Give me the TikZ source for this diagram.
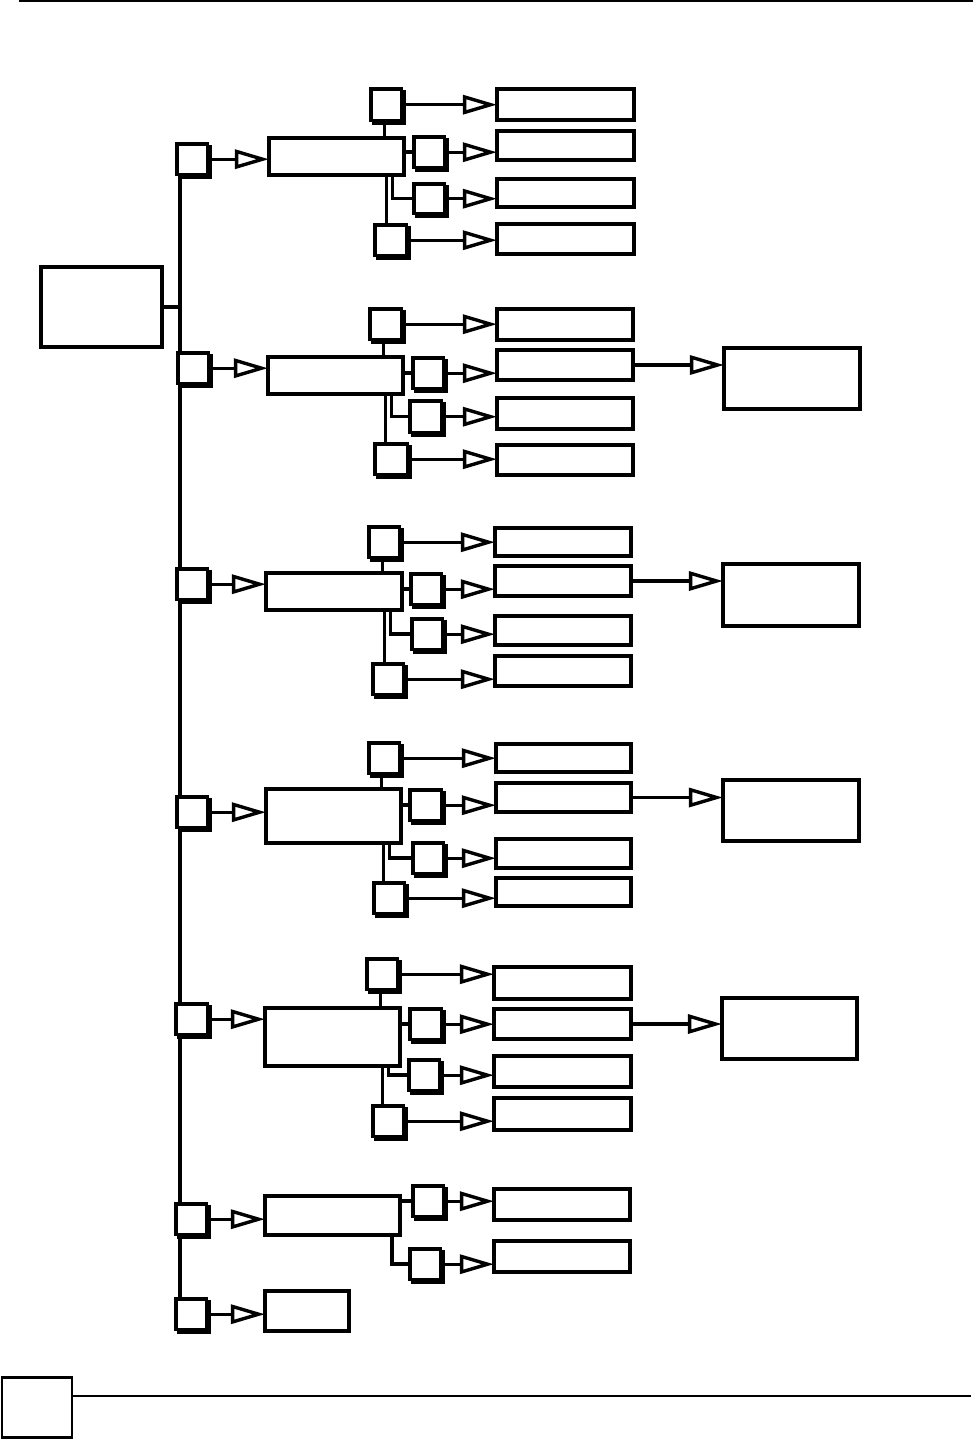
\documentclass[tikz,border=0pt]{standalone}
\usetikzlibrary{arrows.meta,shadows,backgrounds}
\tikzset{
  box/.style={draw,line width=3.8pt,fill=white,inner sep=0pt,outer sep=0pt},
  sqbox/.style={box,drop shadow={shadow xshift=2.6pt,shadow yshift=-2.6pt,opacity=1,fill=black,draw=black,line width=3.8pt}},
  ln/.style={line width=3.5pt},
  arr/.style={line width=3.4pt,-{Triangle[open,length=34pt,width=19pt]}},
}
\newcommand\bx[6][]{\node[box,#1,minimum width={#5-#3-3.8},minimum height={#6-#4-3.8}] (#2) at ({(#3+#5)/2},{(#4+#6)/2}) {};}
\newcommand\sqr[5]{\node[sqbox,minimum width={#4-#2-6.4},minimum height={#5-#3-6.4}] (#1) at ({(#2+#4-2.6)/2},{(#3+#5-2.6)/2}) {};}
\begin{document}
\begin{tikzpicture}[x=1pt,y=-1pt]
\useasboundingbox (0,0) rectangle (973,1440);
% header / footer
\draw[line width=2pt] (19,1) -- (973,1);
\node[draw,line width=2.6pt,inner sep=0pt,minimum width=70,minimum height=60] (foot) at (37,1407.5) {};
\draw[line width=1.4pt] (foot.east |- 0,1396) -- (971,1396);
% root
\bx{root}{39}{265}{164}{349}
% section 1
\sqr{s1}{175}{142}{212}{179}
\bx{m1}{267}{136}{406}{177}
\sqr{a1}{369}{87}{406}{125}
\sqr{b1}{412}{135}{449}{172}
\sqr{c1}{412}{182}{449}{218}
\sqr{d1}{373}{223}{411}{260}
\bx{L11}{495}{87}{636}{122}
\bx{L12}{495}{129}{636}{162}
\bx{L13}{495}{177}{636}{209}
\bx{L14}{495}{222}{636}{256}
% section 2
\sqr{s2}{176}{351}{213}{388}
\bx{m2}{266}{355}{405}{396}
\sqr{a2}{368}{307}{406}{344}
\sqr{b2}{411}{356}{448}{393}
\sqr{c2}{408}{399}{446}{437}
\sqr{d2}{373}{442}{412}{479}
\bx{L21}{495}{307}{635}{342}
\bx{L22}{495}{348}{635}{382}
\bx{L23}{495}{396}{635}{431}
\bx{L24}{495}{443}{635}{477}
\bx{F2}{722}{346}{862}{411}
% section 3
\sqr{s3}{175}{567}{212}{604}
\bx{m3}{264}{571}{404}{612}
\sqr{a3}{367}{525}{404}{562}
\sqr{b3}{409}{572}{446}{609}
\sqr{c3}{410}{617}{447}{654}
\sqr{d3}{371}{662}{408}{699}
\bx{L31}{493}{526}{633}{558}
\bx{L32}{493}{564}{633}{598}
\bx{L33}{493}{614}{633}{647}
\bx{L34}{493}{654}{633}{688}
\bx{F3}{721}{562}{861}{628}
% section 4
\sqr{s4}{175}{795}{212}{832}
\bx{m4}{264}{787}{403}{845}
\sqr{a4}{367}{741}{404}{778}
\sqr{b4}{408}{788}{446}{825}
\sqr{c4}{411}{841}{448}{878}
\sqr{d4}{372}{881}{409}{918}
\bx{L41}{494}{742}{633}{774}
\bx{L42}{494}{781}{633}{814}
\bx{L43}{494}{837}{633}{870}
\bx{L44}{494}{876}{633}{908}
\bx{F4}{721}{778}{861}{843}
% section 5
\sqr{s5}{174}{1002}{212}{1039}
\bx{m5}{263}{1006}{402}{1068}
\sqr{a5}{365}{957}{402}{994}
\sqr{b5}{408}{1007}{446}{1044}
\sqr{c5}{407}{1058}{444}{1095}
\sqr{d5}{371}{1104}{408}{1141}
\bx{L51}{492}{965}{633}{1001}
\bx{L52}{492}{1007}{633}{1041}
\bx{L53}{492}{1054}{633}{1089}
\bx{L54}{492}{1096}{633}{1132}
\bx{F5}{720}{996}{859}{1061}
% section 6
\sqr{s6}{174}{1202}{211}{1239}
\bx{m6}{263}{1194}{402}{1237}
\sqr{b6}{411}{1184}{448}{1221}
\sqr{c6}{408}{1247}{445}{1284}
\bx{L61}{492}{1187}{632}{1222}
\bx{L62}{492}{1239}{632}{1274}
% section 7
\sqr{s7}{174}{1297}{211}{1334}
\bx{m7}{263}{1289}{351}{1333}
% bus
\coordinate (bt) at ([xshift=3pt]s1.west);
\begin{pgfonlayer}{background}
\draw[ln] (bt) -- (bt |- s7.center);
\draw[ln] (root.east) -- (root.east -| bt);
\end{pgfonlayer}
% connections sections 1-5
\foreach \i in {1,...,5}{
  \draw[arr] (s\i.east) -- (s\i.east -| m\i.west);
  \draw[ln] ([xshift=-19.5pt]m\i.north east) -- ([xshift=-19.5pt]m\i.north east |- a\i.south);
  \draw[ln] (m\i.east |- b\i.west) -- (b\i.west);
  \draw[ln] ([xshift=-11.5pt]m\i.south east) |- (c\i.west);
  \draw[ln] ([xshift=-17.5pt]m\i.south east) -- ([xshift=-17.5pt]m\i.south east |- d\i.north);
  \draw[arr] (a\i.east) -- (a\i.east -| L\i1.west);
  \draw[arr] (b\i.east) -- (b\i.east -| L\i2.west);
  \draw[arr] (c\i.east) -- (c\i.east -| L\i3.west);
  \draw[arr] (d\i.east) -- (d\i.east -| L\i4.west);
}
\foreach \i in {2,...,5}{
  \draw[arr] (L\i2.east) -- (L\i2.east -| F\i.west);
}
% section 6
\draw[arr] (s6.east) -- (s6.east -| m6.west);
\draw[ln] (m6.east |- b6.west) -- (b6.west);
\draw[ln] ([xshift=-8pt]m6.south east) |- (c6.west);
\draw[arr] (b6.east) -- (b6.east -| L61.west);
\draw[arr] (c6.east) -- (c6.east -| L62.west);
% section 7
\draw[arr] (s7.east) -- (s7.east -| m7.west);
\end{tikzpicture}
\end{document}
